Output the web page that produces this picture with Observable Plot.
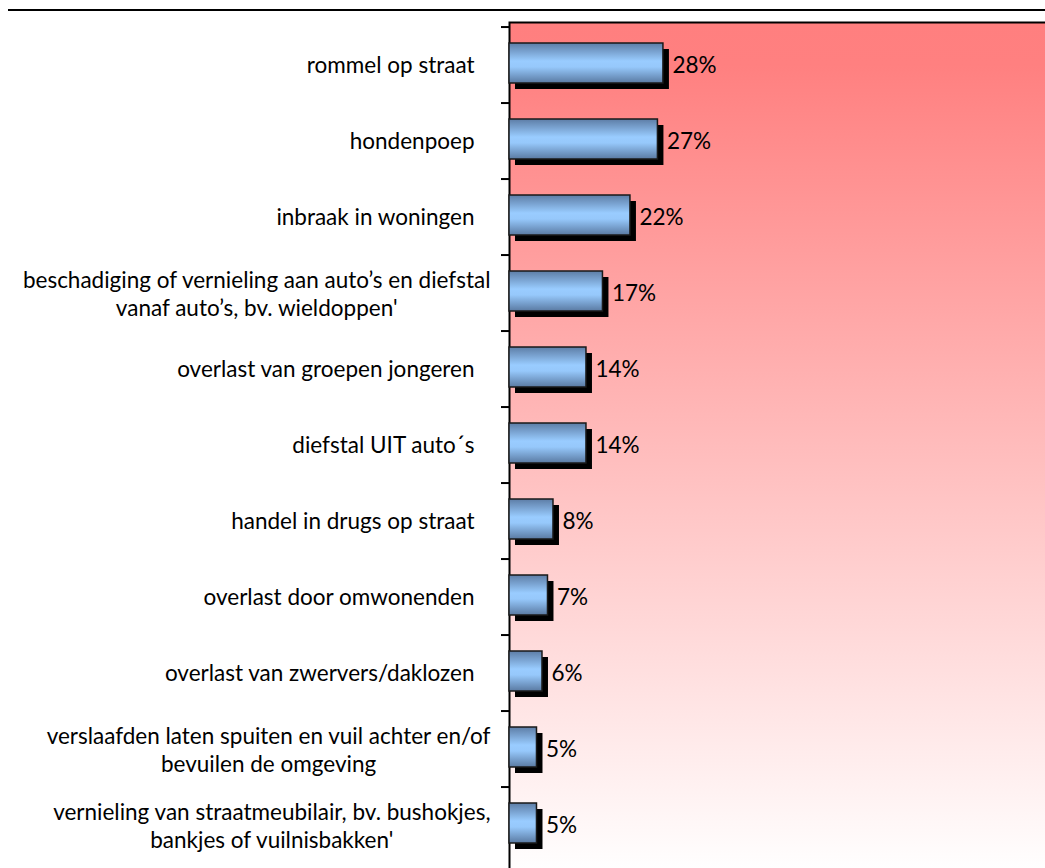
<!DOCTYPE html>
<html><head><meta charset="utf-8">
<script src="https://cdn.jsdelivr.net/npm/d3@7"></script>
<script src="https://cdn.jsdelivr.net/npm/@observablehq/plot@0.6"></script>
<style>
html,body{margin:0;padding:0;background:#fff;overflow:hidden;}
#topline{position:absolute;left:8px;top:9px;width:1037px;height:2px;background:#000;}
#chart{position:absolute;left:0;top:20px;width:1045px;height:848px;overflow:hidden;}
</style></head><body>
<svg width="0" height="0" style="position:absolute">
<defs>
<linearGradient id="bg" x1="0" y1="0" x2="0" y2="1">
 <stop offset="0" stop-color="#ff7f7f"/>
 <stop offset="0.05" stop-color="#ff8080"/>
 <stop offset="1" stop-color="#ffffff"/>
</linearGradient>
<linearGradient id="barfill" x1="0" y1="0" x2="0" y2="1">
 <stop offset="0" stop-color="#5d7da6"/>
 <stop offset="0.45" stop-color="#99ccff"/>
 <stop offset="0.6" stop-color="#96c8fb"/>
 <stop offset="1" stop-color="#5a7aa2"/>
</linearGradient>
</defs></svg>
<div id="topline"></div>
<div id="chart"></div>
<script>
const categories = [
  "rommel op straat",
  "hondenpoep",
  "inbraak in woningen",
  "beschadiging of vernieling aan auto’s en diefstal\nvanaf auto’s, bv. wieldoppen'",
  "overlast van groepen jongeren",
  "diefstal UIT auto´s",
  "handel in drugs op straat",
  "overlast door omwonenden",
  "overlast van zwervers/daklozen",
  "verslaafden laten spuiten en vuil achter en/of\nbevuilen de omgeving",
  "vernieling van straatmeubilair, bv. bushokjes,\nbankjes of vuilnisbakken'"
];
const values = [28, 27, 22, 17, 14, 14, 8, 7, 6, 5, 5];
const valueLabels = ["28%", "27%", "22%", "17%", "14%", "14%", "8%", "7%", "6%", "5%", "5%"];

const data = categories.map((c, i) => ({category: c, value: values[i] / 100, label: valueLabels[i]}));
const W = 1045, H = 848, MT = 2, ML = 509;
const step = (H - MT) / categories.length;
const FS = 22.5;

const plot = Plot.plot({
  width: W, height: H,
  marginTop: MT, marginBottom: 0, marginLeft: ML, marginRight: 0,
  style: {fontFamily: "Lato", fontSize: FS + "px", color: "#000", background: "transparent"},
  x: {domain: [0, 0.975], axis: null},
  y: {domain: categories, paddingInner: 0.48, paddingOuter: 0.24},
  marks: [
    Plot.frame({fill: "url(#bg)", stroke: "#000", strokeWidth: 2, insetRight: -6, insetBottom: -6}),
    Plot.axisY({tickSize: 8, tickFormat: () => "", label: null, dy: -step / 2, stroke: "#000", strokeWidth: 2}),
    Plot.barX(data, {x: "value", y: "category", fill: "#000", dx: 6, dy: 4}),
    Plot.barX(data, {x: "value", y: "category", fill: "url(#barfill)", stroke: "#1a1a1a", strokeWidth: 1.5, dy: -2}),
    Plot.text(data, {x: "value", y: "category", text: "label", textAnchor: "start", dx: 9, fontSize: FS, fill: "#000"}),
    Plot.text(data.filter(d => !d.category.includes("\n")), {y: "category", text: "category", frameAnchor: "left", textAnchor: "end", dx: -35, fontSize: FS, fill: "#000"}),
    Plot.text(data.filter(d => d.category.includes("\n")), {y: "category", text: "category", frameAnchor: "left", textAnchor: "end", dx: -19, fontSize: FS, lineHeight: 1.24, fill: "#000"})
  ]
});
document.getElementById("chart").appendChild(plot);

// center the lines of multi-line labels within their right-aligned block
plot.querySelectorAll("text").forEach(t => {
  const spans = t.querySelectorAll("tspan");
  if (spans.length < 2) return;
  let maxW = 0;
  spans.forEach(s => { maxW = Math.max(maxW, s.getComputedTextLength()); });
  t.setAttribute("text-anchor", "middle");
  t.style.textAnchor = "middle";
  spans.forEach(s => s.setAttribute("x", -maxW / 2));
});
</script>
</body></html>
